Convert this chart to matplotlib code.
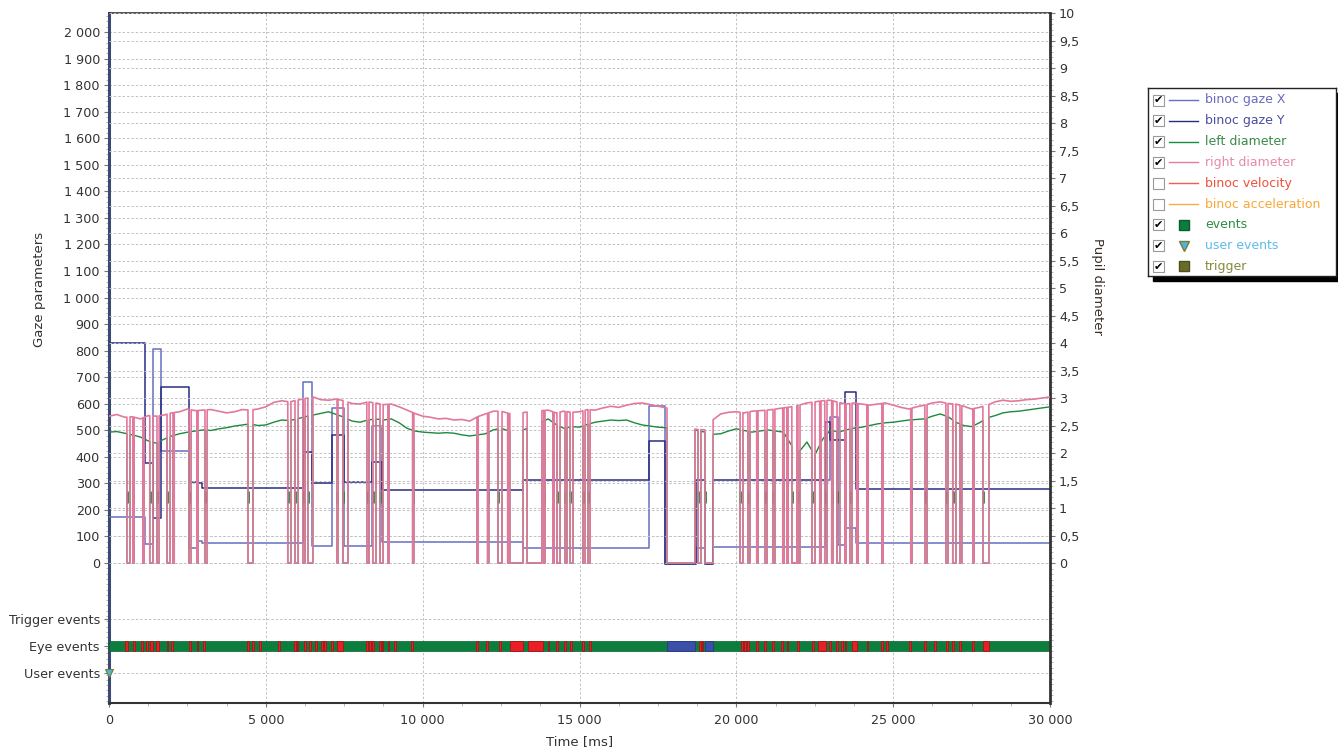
import matplotlib
matplotlib.use("Agg")
import matplotlib.pyplot as plt
import numpy as np
from matplotlib.patches import Rectangle
from matplotlib.ticker import FuncFormatter, MultipleLocator

# ---- pupil diameters, sampled every 250 ms (right axis) ----
DIAM_T = list(range(0, 30001, 250))
RIGHT_D = [2.67, 2.70, 2.65, 2.66, 2.62, 2.68, 2.67, 2.69,
           2.73, 2.75, 2.80, 2.77, 2.78, 2.79, 2.76, 2.73,
           2.75, 2.79, 2.78, 2.80, 2.84, 2.92, 2.95, 2.93,
           2.96, 2.99, 3.02, 2.97, 2.96, 2.98, 2.95, 2.90,
           2.89, 2.93, 2.91, 2.88, 2.89, 2.84, 2.78, 2.72,
           2.67, 2.65, 2.62, 2.63, 2.60, 2.61, 2.58, 2.66,
           2.71, 2.76, 2.76, 2.72, 2.71, 2.74, 2.75, 2.77,
           2.78, 2.73, 2.76, 2.74, 2.75, 2.79, 2.78, 2.82,
           2.85, 2.83, 2.87, 2.90, 2.91, 2.88, 2.85, 2.82,
           2.80, 2.70, 2.45, 2.43, 2.42, 2.60, 2.71, 2.74,
           2.75, 2.73, 2.76, 2.77, 2.78, 2.80, 2.82, 2.84,
           2.87, 2.91, 2.93, 2.95, 2.96, 2.92, 2.89, 2.91,
           2.89, 2.87, 2.89, 2.91, 2.87, 2.83, 2.80, 2.84,
           2.87, 2.91, 2.93, 2.90, 2.89, 2.85, 2.80, 2.83,
           2.87, 2.93, 2.96, 2.94, 2.95, 2.97, 2.98, 3.00,
           3.02]
LEFT_D = [2.38, 2.39, 2.36, 2.33, 2.29, 2.22, 2.18, 2.25,
          2.31, 2.35, 2.38, 2.40, 2.42, 2.41, 2.44, 2.46,
          2.49, 2.51, 2.53, 2.50, 2.51, 2.56, 2.60, 2.59,
          2.62, 2.66, 2.69, 2.72, 2.75, 2.70, 2.65, 2.58,
          2.56, 2.60, 2.62, 2.60, 2.62, 2.55, 2.45, 2.40,
          2.38, 2.37, 2.36, 2.37, 2.36, 2.33, 2.31, 2.33,
          2.35, 2.42, 2.45, 2.40, 2.38, 2.43, 2.49, 2.55,
          2.62, 2.52, 2.45, 2.48, 2.47, 2.52, 2.56, 2.58,
          2.60, 2.59, 2.60, 2.55, 2.51, 2.49, 2.47, 2.46,
          2.45, 2.45, 2.45, 2.41, 2.38, 2.34, 2.35, 2.40,
          2.44, 2.41, 2.38, 2.40, 2.42, 2.40, 2.38, 2.15,
          2.02, 2.20, 1.96, 2.25, 2.42, 2.38, 2.42, 2.45,
          2.47, 2.50, 2.53, 2.55, 2.56, 2.58, 2.60, 2.61,
          2.62, 2.67, 2.71, 2.66, 2.56, 2.50, 2.48, 2.55,
          2.64, 2.68, 2.73, 2.75, 2.76, 2.78, 2.80, 2.82,
          2.84]

# blinks (start ms, end ms): diameter drops to 0
BLINKS = [(570, 670), (760, 800), (1080, 1120), (1300, 1400), (1530, 1600),
          (1850, 1950), (2040, 2080), (2550, 2620), (2800, 2840), (3060, 3130),
          (4430, 4590), (5700, 5800), (5930, 6030), (6180, 6250), (6340, 6500),
          (7270, 7300), (7460, 7620), (8220, 8290), (8410, 8510), (8640, 8740),
          (8890, 8930), (9680, 9720), (11730, 11770), (12070, 12110), (12400, 12530),
          (12710, 12750), (12780, 13200), (13330, 13800), (13860, 13900), (14150, 14190),
          (14280, 14380), (14540, 14600), (14700, 14790), (15110, 15180), (15270, 15340),
          (17790, 18680), (18780, 18870), (19000, 19260), (20120, 20210), (20370, 20435),
          (20650, 20690), (20910, 20980), (21170, 21230), (21480, 21520), (21610, 21650),
          (21770, 21930), (21965, 22030), (22410, 22510), (22660, 22700), (22820, 22890),
          (23040, 23080), (23210, 23300), (23460, 23500), (23620, 23690), (23840, 23880),
          (24160, 24200), (24640, 24680), (25560, 25600), (26010, 26080), (26680, 26750),
          (26900, 27000), (27130, 27190), (27540, 27580), (27860, 28050)]

# ---- gaze (left axis), step values ----
GAZE_T = [0, 1150, 1400, 1650, 2550, 2800, 2950, 6200, 6470, 7100, 7500, 8400, 8700,
          13200, 17200, 17730, 18700, 19000, 19260, 22830, 23000, 23250, 23470, 23800, 30000]
GAZE_X = [175, 72, 806, 422, 58, 84, 76, 680, 64, 583, 64, 516, 80,
          57, 590, -5, 57, -5, 60, 312, 550, 68, 131, 75, 75]
GAZE_Y = [830, 378, 170, 663, 305, 300, 283, 418, 302, 482, 306, 380, 275,
          312, 460, -5, 312, -5, 312, 532, 463, 463, 645, 279, 279]

# ---- eye events ----
SACCADES = [(520, 600), (770, 830), (1030, 1080), (1190, 1240), (1320, 1400), (1510, 1580),
            (1840, 1890), (1990, 2030), (2560, 2610), (2790, 2830), (3010, 3060), (4410, 4460),
            (4570, 4620), (4790, 4840), (5400, 5450), (5910, 5960), (5980, 6020), (6230, 6280),
            (6390, 6430), (6580, 6620), (6770, 6810), (6870, 6910), (7090, 7130), (7260, 7470),
            (8200, 8250), (8300, 8340), (8400, 8440), (8620, 8660), (8690, 8730), (8880, 8920),
            (9100, 9140), (9640, 9690), (11710, 11760), (12030, 12080), (12440, 12490),
            (12790, 13190), (13360, 13840), (13980, 14020), (14260, 14310), (14520, 14560),
            (14710, 14750), (15090, 15140), (15310, 15360), (18820, 18870), (18890, 18930),
            (20160, 20200), (20260, 20300), (20350, 20390), (20640, 20680), (20890, 20940),
            (21150, 21190), (21430, 21480), (21600, 21640), (21950, 21990), (22420, 22470),
            (22600, 22860), (22970, 23010), (23190, 23230), (23350, 23390), (23450, 23490),
            (23690, 23850), (24150, 24190), (24620, 24670), (24780, 24830), (25520, 25560),
            (25990, 26040), (26310, 26360), (26700, 26740), (26890, 26930), (27110, 27150),
            (27520, 27570), (27860, 28060)]
EYE_BLINKS = [(17790, 18680), (19000, 19260)]
USER_EVENTS = [0]

ROW_LABELS = ["User events", "Eye events", "Trigger events"]
LEGEND_LABELS = ["binoc gaze X", "binoc gaze Y", "left diameter", "right diameter",
                 "binoc velocity", "binoc acceleration", "events", "user events", "trigger"]
LEGEND_CHECKED = [True, True, True, True, False, False, True, True, True]

# colours
C_X = "#6570c2"
C_Y = "#272c86"
C_LEFT = "#1b8a3e"
C_RIGHT = "#e2799c"
GRID = "#c2c2c2"
TXT = "#333333"


def with_blinks(t, v, blinks):
    t = np.asarray(t, float)
    v = np.asarray(v, float)
    keep = np.ones(len(t), bool)
    for s, e in blinks:
        keep &= ~((t >= s) & (t <= e))
    ts, vs = list(t[keep]), list(v[keep])
    for s, e in blinks:
        a, b = np.interp([s, e], t, v)
        ts += [s, s, e, e]
        vs += [a, 0.0, 0.0, b]
    order = np.argsort(ts, kind="stable")
    return np.array(ts)[order], np.array(vs)[order]


def thousands(v, pos=None):
    return f"{int(round(v)):,}".replace(",", " ")


fig = plt.figure(figsize=(13.38, 7.49), dpi=100)
W, H = 1338, 749
ax = fig.add_axes([109 / W, 1 - 703 / H, 941 / W, 690 / H])
ax.set_xlim(0, 30000)
ax.set_ylim(-527.3, 2071.6)

rows = [-414, -311, -211]

# gaze
ax.step(GAZE_T, GAZE_X, where="post", color=C_X, lw=1.1, zorder=3)
ax.step(GAZE_T, GAZE_Y, where="post", color=C_Y, lw=1.1, zorder=3)

# eye events bar
bar = (rows[1] - 19, 38)
ax.broken_barh([(0, 30000)], bar, facecolors="#0b7d3c", edgecolors="#0a5c2c", lw=0.5, zorder=4)
ax.broken_barh([(s, e - s) for s, e in SACCADES], bar, facecolors="#ea1f25",
               edgecolors="#9c1a1a", lw=0.6, zorder=5)
ax.broken_barh([(s, e - s) for s, e in EYE_BLINKS], bar, facecolors="#3b4fa8",
               edgecolors="#2a3a80", lw=0.6, zorder=5)
ax.plot(USER_EVENTS, [rows[0]] * len(USER_EVENTS), ls="none", marker="v", ms=6,
        color="#4ab4e4", mec="#7c7c2c", mew=0.8, clip_on=False, zorder=6)

# left axis ticks
ax.set_yticks(rows + list(range(0, 2001, 100)))
ax.set_yticklabels(ROW_LABELS + [thousands(v) for v in range(0, 2001, 100)])
ax.yaxis.set_minor_locator(MultipleLocator(20))
ax.xaxis.set_major_locator(MultipleLocator(5000))
ax.xaxis.set_minor_locator(MultipleLocator(1250))
ax.xaxis.set_major_formatter(FuncFormatter(thousands))
ax.tick_params(axis="y", which="major", length=3.5, width=0.8, color="#777777",
               labelsize=9.2, labelcolor=TXT, pad=3)
ax.tick_params(axis="y", which="minor", length=2, width=0.5, color="#999999")
ax.tick_params(axis="x", which="major", length=3, width=0.8, color="#777777",
               labelsize=9.2, labelcolor=TXT, pad=5)
ax.tick_params(axis="x", which="minor", length=2, width=0.5, color="#999999")
ax.grid(True, which="major", color=GRID, ls=(0, (2.5, 2)), lw=0.7)
ax.set_axisbelow(True)

ax.set_ylabel("Gaze parameters", fontsize=9.5, color=TXT)
ax.yaxis.set_label_coords(-0.067, 0.6)
ax.set_xlabel("Time [ms]", fontsize=9.5, color=TXT, va="center")
ax.xaxis.set_label_coords(0.5, -0.056)

# right axis: pupil diameters
ax2 = ax.twinx()
ax2.set_ylim(-2.545, 10)
lt, lv = with_blinks(DIAM_T, LEFT_D, BLINKS)
rt, rv = with_blinks(DIAM_T, RIGHT_D, BLINKS)
ax2.plot(lt, lv, color=C_LEFT, lw=1.0, zorder=3)
short = [s for s, e in BLINKS if e - s < 300]
ax2.plot(short, [1.2] * len(short), ls="none", marker="|", ms=8, mew=2,
         color=C_LEFT, zorder=3)
ax2.plot(rt, rv, color=C_RIGHT, lw=1.2, zorder=4)

ax2.set_yticks(np.arange(0, 10.01, 0.5))
ax2.yaxis.set_major_formatter(FuncFormatter(lambda v, p: f"{v:g}".replace(".", ",")))
ax2.yaxis.set_minor_locator(MultipleLocator(0.1))
ax2.tick_params(axis="y", which="major", length=3.5, width=0.8, color="#777777",
                labelsize=9.2, labelcolor=TXT, pad=3)
ax2.tick_params(axis="y", which="minor", length=2, width=0.5, color="#999999")
ax2.yaxis.grid(True, color=GRID, ls=(0, (2.5, 2)), lw=0.7)
ax2.set_axisbelow(True)
ax2.set_ylabel("Pupil diameter", fontsize=9.5, color="#3a2e28", rotation=270,
               va="center", ha="center")
ax2.yaxis.set_label_coords(1.05, 0.603)

for s in ["left", "top", "bottom"]:
    ax2.spines[s].set_visible(False)
ax.spines["right"].set_visible(False)
ax.spines["left"].set_color("#3b4a72")
ax.spines["left"].set_linewidth(2.2)
ax.spines["top"].set_color("#333333")
ax.spines["top"].set_linewidth(1.2)
ax.spines["bottom"].set_color("#333333")
ax.spines["bottom"].set_linewidth(1.5)
ax2.spines["right"].set_color("#333333")
ax2.spines["right"].set_linewidth(2)

# ---- custom legend box ----
fig.add_artist(Rectangle((1153 / W, 1 - 281 / H), 190 / W, 188 / H,
                         transform=fig.transFigure, color="black", zorder=-1))
lax = fig.add_axes([1148 / W, 1 - 276 / H, 188 / W, 188 / H])
lax.set_xlim(1148, 1336)
lax.set_ylim(276, 88)
lax.set_xticks([])
lax.set_yticks([])
for s in lax.spines.values():
    s.set_color("#222222")
    s.set_linewidth(1)

leg_line = [C_X, C_Y, C_LEFT, "#e87ca0", "#f06050", "#f8b040"]
leg_text = ["#6a6abf", "#4a4ea0", "#3a8a48", "#e68aa8", "#f0503c", "#f7a836",
            "#2e8b45", "#5bbce8", "#8a8a3a"]
for i, (lab, chk) in enumerate(zip(LEGEND_LABELS, LEGEND_CHECKED)):
    y = 100 + 20.8 * i
    lax.add_patch(Rectangle((1153, y - 5.5), 11, 11, fc="white", ec="#9a9a9a", lw=0.8))
    if chk:
        lax.text(1158.7, y + 0.3, "\u2714", ha="center", va="center", fontsize=8, color="black")
    if i < 6:
        lax.plot([1169, 1198], [y, y], color=leg_line[i], lw=1)
    elif i == 6:
        lax.plot([1183.5], [y], marker="s", ms=7, color="#0b7d3c", mec="#0a5c2c")
    elif i == 7:
        lax.plot([1183.5], [y], marker="v", ms=7, color="#4ab4e4", mec="#7c7c2c")
    else:
        lax.plot([1183.5], [y], marker="s", ms=7, color="#6b6b28", mec="#4f4f1c")
    lax.text(1205, y, lab, ha="left", va="center", fontsize=9, color=leg_text[i])

fig.savefig("out.png", dpi=100)
